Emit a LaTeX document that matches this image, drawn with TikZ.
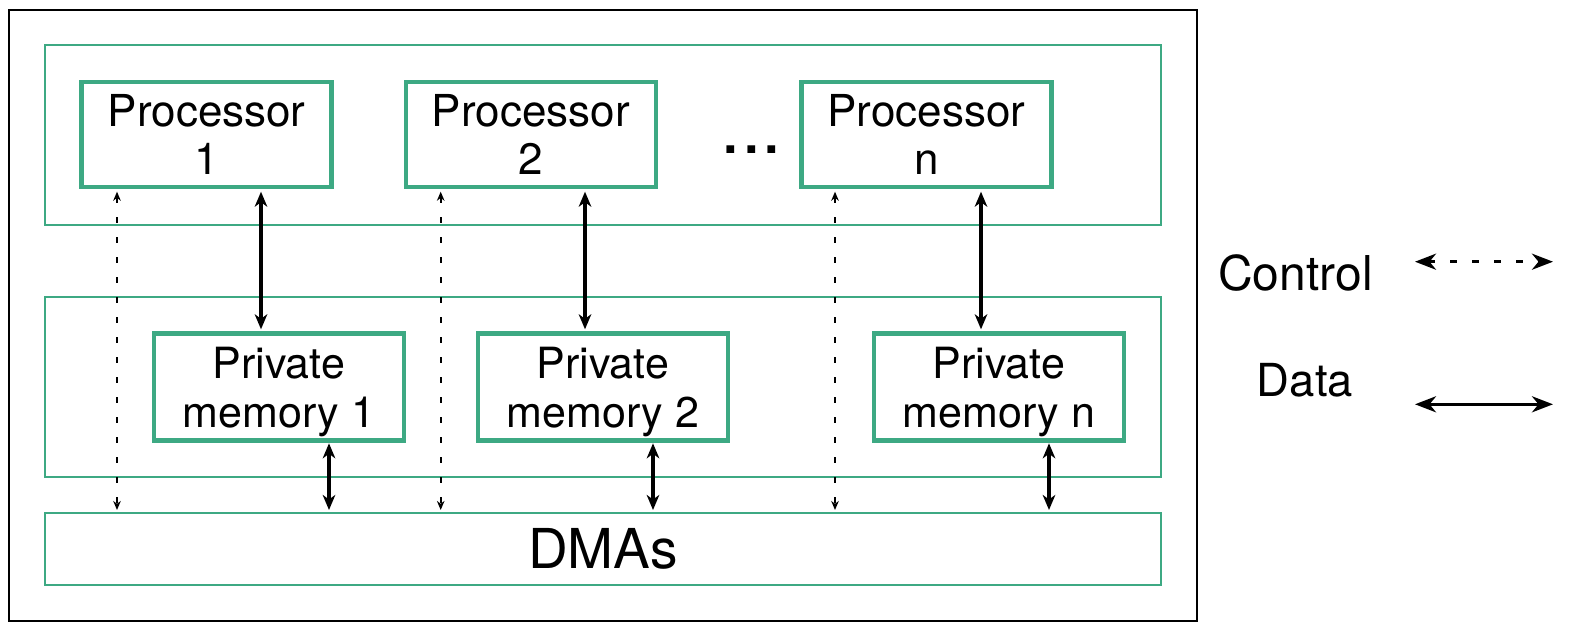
\documentclass[tikz,border=0pt]{standalone}
\usepackage{fontspec}
\setmainfont{TeX Gyre Heros}
\usetikzlibrary{arrows.meta,calc}
\definecolor{grn}{RGB}{61,169,131}
\begin{document}
\begin{tikzpicture}[x=1pt,y=-1pt,
  box/.style={draw=grn,line width=4.4pt,outer sep=0pt,inner sep=0pt,minimum width=250pt,align=center},
  procbox/.style={box,minimum height=105pt,font=\fontsize{44}{48}\selectfont},
  membox/.style={box,minimum height=107pt,font=\fontsize{43}{49}\selectfont},
  cont/.style={draw=grn,line width=2.2pt,outer sep=0pt,inner sep=0pt,minimum width=1116.3pt},
  datarr/.style={line width=3.2pt,{Stealth[length=15pt,width=12.5pt,inset=4.5pt]}-{Stealth[length=15pt,width=12.5pt,inset=4.5pt]}},
  ctrlarr/.style={line width=2pt,dash pattern=on 6pt off 14pt,{Stealth[length=9pt,width=7.5pt,inset=2.8pt]}-{Stealth[length=9pt,width=7.5pt,inset=2.8pt]}},
  legdata/.style={line width=3.2pt,{Stealth[length=21pt,width=16pt,inset=6.5pt]}-{Stealth[length=21pt,width=16pt,inset=6.5pt]}},
  legctrl/.style={line width=3.2pt,dash pattern=on 7pt off 15pt,{Stealth[length=21pt,width=16pt,inset=6.5pt]}-{Stealth[length=21pt,width=16pt,inset=6.5pt]}}
]
\useasboundingbox (0,0) rectangle (1574,632);
% frame
\node[draw=black,line width=1.7pt,outer sep=0pt,minimum width=1187.4pt,minimum height=611.3pt] (frame) at (603,315.35) {};
% containers
\node[cont,minimum height=180pt] (top) at (602.85,134.7) {};
\node[cont,minimum height=180.3pt] (mid) at (602.85,386.85) {};
\node[cont,minimum height=72pt,font=\fontsize{55}{60}\selectfont] (dma) at (602.85,548.7) {DMAs};
% processors
\node[procbox] (p1) at (206.65,134.7) {Processor\\1};
\node[procbox] (p2) at (530.85,134.7) {Processor\\2};
\node[procbox] (pn) at (926.5,134.7) {Processor\\n};
\node[font=\fontsize{74}{74}\selectfont,anchor=base,inner sep=0pt] (dots) at (751.5,153) {...};
% memories
\node[membox] (m1) at (278.85,387) {Private\\\raisebox{0pt}[\height][0pt]{memory 1}};
\node[membox] (m2) at (602.85,387) {Private\\\raisebox{0pt}[\height][0pt]{memory 2}};
\node[membox] (mn) at (998.85,387) {Private\\\raisebox{0pt}[\height][0pt]{memory n}};
% control connectors
\coordinate (c1) at ($(p1.south)+(-89.65,0)$);
\coordinate (c2) at ($(p2.south)+(-90.15,0)$);
\coordinate (cn) at ($(pn.south)+(-91.5,0)$);
\foreach \c in {c1,c2,cn}{
  \draw[ctrlarr,shorten <=4.5pt,shorten >=2.7pt] (\c) -- (\c |- dma.north);
}
% data connectors processor <-> memory
\coordinate (d1) at ($(p1.south)+(54.35,0)$);
\coordinate (d2) at ($(p2.south)+(54.15,0)$);
\coordinate (dn) at ($(pn.south)+(54.5,0)$);
\draw[datarr,shorten <=4.5pt,shorten >=4.2pt] (d1) -- (d1 |- m1.north);
\draw[datarr,shorten <=4.5pt,shorten >=4.2pt] (d2) -- (d2 |- m2.north);
\draw[datarr,shorten <=4.5pt,shorten >=4.2pt] (dn) -- (dn |- mn.north);
% data connectors memory <-> DMAs
\coordinate (e1) at ($(m1.south)+(50.15,0)$);
\coordinate (e2) at ($(m2.south)+(50.15,0)$);
\coordinate (en) at ($(mn.south)+(50.15,0)$);
\foreach \e in {e1,e2,en}{
  \draw[datarr,shorten <=2.8pt,shorten >=2.7pt] (\e) -- (\e |- dma.north);
}
% legend
\node[font=\fontsize{48}{52}\selectfont,anchor=base,inner sep=0pt] (lc) at (1295.5,290) {Control};
\node[font=\fontsize{45.5}{50}\selectfont,anchor=base,inner sep=0pt] (ld) at (1305,396.7) {Data};
\coordinate (lcA) at (1415,261.7);
\coordinate (lcB) at (1553,261.7);
\coordinate (ldA) at (1415,404.3);
\coordinate (ldB) at (1553,404.3);
\draw[legctrl] (lcA) -- (lcB);
\draw[legdata] (ldA) -- (ldB);
\end{tikzpicture}
\end{document}
